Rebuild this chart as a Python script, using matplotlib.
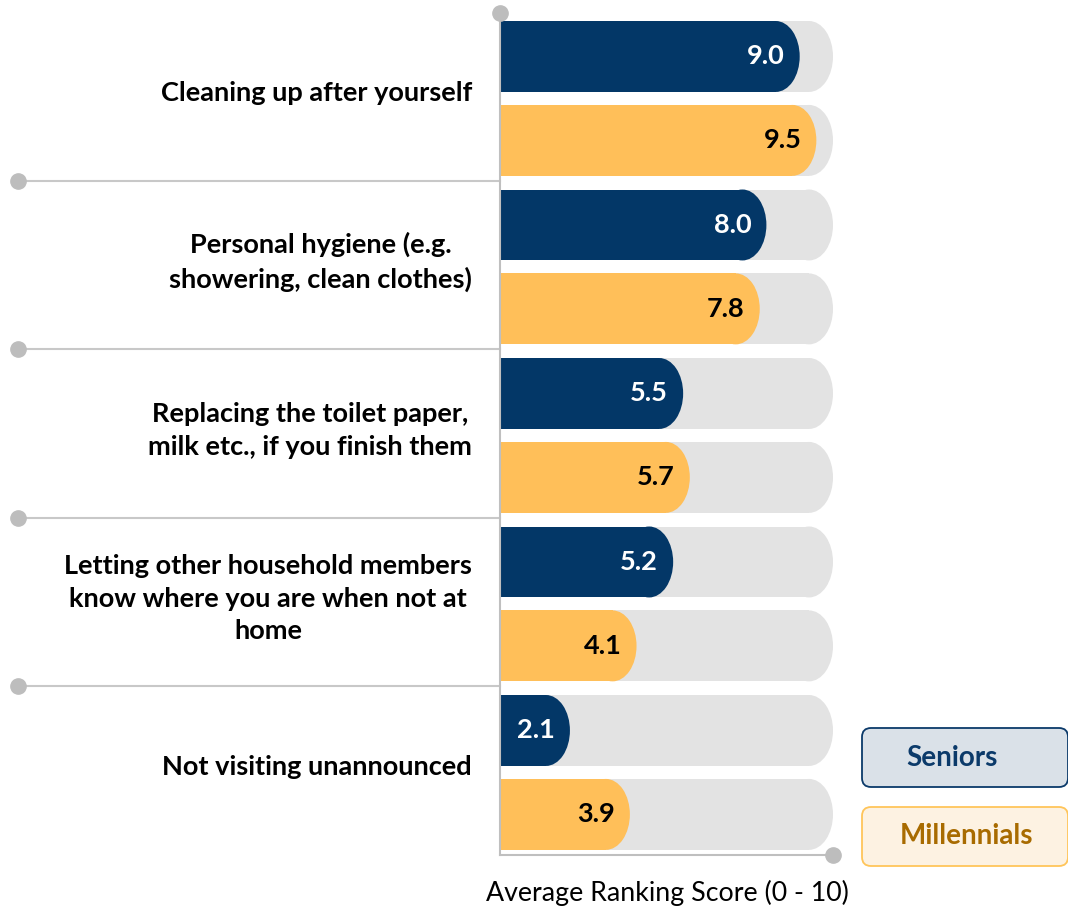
import matplotlib
matplotlib.use('Agg')
import matplotlib.pyplot as plt
import matplotlib.transforms as mtransforms
from matplotlib.patches import Rectangle, Ellipse, FancyBboxPatch

plt.rcParams['font.family'] = ['Lato', 'DejaVu Sans']

# data
categories = ['Cleaning up after yourself',
              'Personal hygiene (e.g.\nshowering, clean clothes)',
              'Replacing the toilet paper,\nmilk etc., if you finish them',
              'Letting other household members\nknow where you are when not at\nhome',
              'Not visiting unannounced']
seniors = [9.0, 8.0, 5.5, 5.2, 2.1]
millennials = [9.5, 7.8, 5.7, 4.1, 3.9]
max_score = 10
series_names = ['Seniors', 'Millennials']
x_label = 'Average Ranking Score (0 - 10)'

navy = '#033767'
gold = '#FFBF59'
track = '#E3E3E3'
line_grey = '#C8C8C8'
dot_grey = '#BDBDBD'

W, H = 1068, 910
fig = plt.figure(figsize=(W/100, H/100), dpi=100)
ax = fig.add_axes([500/W, 1-855/H, 333/W, 842/H])
ax.set_xlim(0, max_score)
ax.set_ylim(4.49, -0.507)

bar_h = 0.421
offset = 0.249
cap = 0.72  # horizontal radius of the rounded end (score units)

def rounded_bar(y, value, color, z):
    ax.add_patch(Rectangle((0, y - bar_h/2), value - cap, bar_h,
                           facecolor=color, edgecolor='none', zorder=z))
    ax.add_patch(Ellipse((value - cap, y), 2*cap, bar_h,
                         facecolor=color, edgecolor='none', zorder=z))

lab = mtransforms.blended_transform_factory(ax.transAxes, ax.transData)
for i in range(len(categories)):
    for val, off, col, tcol in [(seniors[i], -offset, navy, 'white'),
                                (millennials[i], offset, gold, 'black')]:
        y = i + off
        rounded_bar(y, max_score, track, 1)
        rounded_bar(y, val, col, 2)
        ax.text(val - 0.45, y, f'{val:.1f}', ha='right', va='center',
                color=tcol, fontsize=19.5, fontweight='bold', zorder=3)
    ax.text(-0.084, i - 0.03, categories[i], transform=lab,
            ha='right', va='center', multialignment='center',
            fontsize=19.5, fontweight='bold', linespacing=1.42)

# separators with dots on the left
for i in range(len(categories) - 1):
    ax.plot([-1.447, 0], [i + 0.49, i + 0.49], color=line_grey, lw=1.5,
            transform=lab, clip_on=False, zorder=0)
    ax.plot([-1.447], [i + 0.49], 'o', color=dot_grey, ms=11,
            transform=lab, clip_on=False)

for s in ['top', 'right']:
    ax.spines[s].set_visible(False)
for s in ['left', 'bottom']:
    ax.spines[s].set_color('#BFBFBF')
    ax.spines[s].set_linewidth(1.5)
    ax.spines[s].set_zorder(4)
ax.set_xticks([])
ax.set_yticks([])
ax.plot([0], [1], 'o', color=dot_grey, ms=11, transform=ax.transAxes, clip_on=False, zorder=5)
ax.plot([1], [0], 'o', color=dot_grey, ms=11, transform=ax.transAxes, clip_on=False, zorder=5)

fig.text(667/W, 1-893/H, x_label, ha='center', va='center', fontsize=19.3)

# legend boxes, positioned in pixels
px = mtransforms.Affine2D().scale(1/W, 1/H) + fig.transFigure
legend_items = [(series_names[0], H-787, '#DAE1E8', '#0B3A6A', '#0B3A6A', 952),
                (series_names[1], H-866, '#FDF2E2', '#FFC55A', '#A86B00', 967)]
for name, y0, fc, ec, tc, tx in legend_items:
    fig.add_artist(FancyBboxPatch((862, y0), 206, 59,
                                  boxstyle='round,pad=0,rounding_size=9',
                                  facecolor=fc, edgecolor=ec, lw=1.3, transform=px))
    fig.text(tx/W, (y0 + 29.5)/H, name, ha='center', va='center',
             color=tc, fontsize=20, fontweight='bold')

fig.savefig('out.png', dpi=100)
